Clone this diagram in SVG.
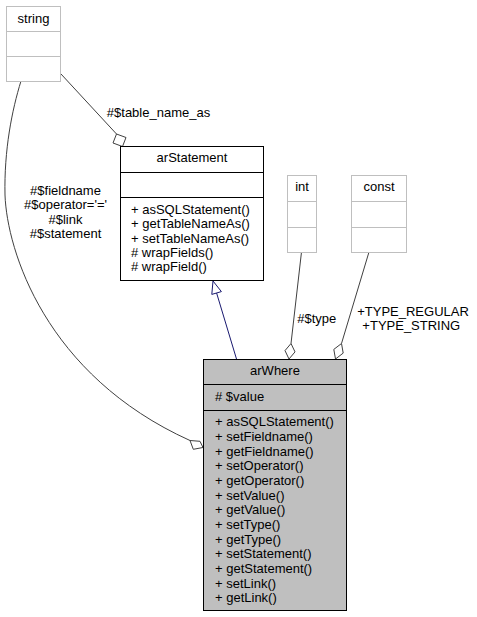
<svg xmlns="http://www.w3.org/2000/svg" width="477" height="617" viewBox="0 0 477 617">
<style>
text{font-family:"Liberation Sans",Arial,Helvetica,sans-serif;font-size:13px;fill:#000}
.c{text-anchor:middle}
.ext{fill:#fff;stroke:#bfbfbf;stroke-width:1}
.cls{fill:#fff;stroke:#000;stroke-width:1}
.cur{fill:#bfbfbf;stroke:#000;stroke-width:1}
.sepg{stroke:#bfbfbf;stroke-width:1}
.sepk{stroke:#000;stroke-width:1}
.e{fill:none;stroke:#404040;stroke-width:1}
.d{fill:#fff;stroke:#404040;stroke-width:1}
.inh{fill:none;stroke:#191970;stroke-width:1}
.tri{fill:#fff;stroke:#191970;stroke-width:1}
</style>
<rect width="477" height="617" fill="#fff"/>
<g id="edges">
<path class="e" d="M61,74 L116.5,134"/>
<polygon class="d" points="116.5,134 126,137.5 122.5,146.5 113,143"/>
<path class="e" d="M21,81 C12,110 4,150 5,195 C7,250 45,375 190,440.5"/>
<polygon class="d" points="190,440.5 200,441.3 203,447.5 193.3,449.3"/>
<path class="inh" d="M236.5,359 L216.6,293"/>
<polygon class="tri" points="213,281 221.4,291.6 211.8,294.4"/>
<path class="e" d="M301.5,252 L291,343.5"/>
<polygon class="d" points="291,343.5 295,351.9 289,359 285,350.6"/>
<path class="e" d="M369,252 L341.5,343.5"/>
<polygon class="d" points="341.5,343.5 343.2,353.1 335.5,359 333.8,349.4"/>
<text class="c" x="158.5" y="117">#$table_name_as</text>
<text class="c" x="65.5" y="195">#$fieldname</text>
<text class="c" x="65.5" y="209.3">#$operator='='</text>
<text class="c" x="65.5" y="223.6">#$link</text>
<text class="c" x="65.5" y="237.9">#$statement</text>
<text class="c" x="316.7" y="323">#$type</text>
<text class="c" x="413" y="316">+TYPE_REGULAR</text>
<text class="c" x="411.3" y="330">+TYPE_STRING</text>
</g>
<g id="string">
<rect class="ext" x="6.5" y="6.5" width="54" height="75"/>
<line class="sepg" x1="6.5" y1="31.5" x2="60.5" y2="31.5"/>
<line class="sepg" x1="6.5" y1="56.5" x2="60.5" y2="56.5"/>
<text class="c" x="33.5" y="22.5">string</text>
</g>
<g id="arStatement">
<rect class="cls" x="120.5" y="146.5" width="143" height="134"/>
<line class="sepk" x1="120.5" y1="172.5" x2="263.5" y2="172.5"/>
<line class="sepk" x1="120.5" y1="197.5" x2="263.5" y2="197.5"/>
<text class="c" x="192" y="162">arStatement</text>
<text x="131" y="213.8">+ asSQLStatement()</text>
<text x="131" y="228.2">+ getTableNameAs()</text>
<text x="131" y="242.6">+ setTableNameAs()</text>
<text x="131" y="257"># wrapFields()</text>
<text x="131" y="271.4"># wrapField()</text>
</g>
<g id="int">
<rect class="ext" x="287.5" y="175.5" width="29" height="77"/>
<line class="sepg" x1="287.5" y1="201.5" x2="316.5" y2="201.5"/>
<line class="sepg" x1="287.5" y1="227.5" x2="316.5" y2="227.5"/>
<text class="c" x="302" y="191">int</text>
</g>
<g id="const">
<rect class="ext" x="351.5" y="175.5" width="55" height="77"/>
<line class="sepg" x1="351.5" y1="201.5" x2="406.5" y2="201.5"/>
<line class="sepg" x1="351.5" y1="227.5" x2="406.5" y2="227.5"/>
<text class="c" x="379" y="191">const</text>
</g>
<g id="arWhere">
<rect class="cur" x="203.5" y="359.5" width="143" height="251"/>
<line class="sepk" x1="203.5" y1="384.5" x2="346.5" y2="384.5"/>
<line class="sepk" x1="203.5" y1="410.5" x2="346.5" y2="410.5"/>
<text class="c" x="275" y="375">arWhere</text>
<text x="215" y="401"># $value</text>
<text x="215" y="426.2">+ asSQLStatement()</text>
<text x="215" y="440.9">+ setFieldname()</text>
<text x="215" y="455.5">+ getFieldname()</text>
<text x="215" y="470.2">+ setOperator()</text>
<text x="215" y="484.9">+ getOperator()</text>
<text x="215" y="499.5">+ setValue()</text>
<text x="215" y="514.2">+ getValue()</text>
<text x="215" y="528.9">+ setType()</text>
<text x="215" y="543.6">+ getType()</text>
<text x="215" y="558.2">+ setStatement()</text>
<text x="215" y="572.9">+ getStatement()</text>
<text x="215" y="587.6">+ setLink()</text>
<text x="215" y="602.2">+ getLink()</text>
</g>
</svg>
